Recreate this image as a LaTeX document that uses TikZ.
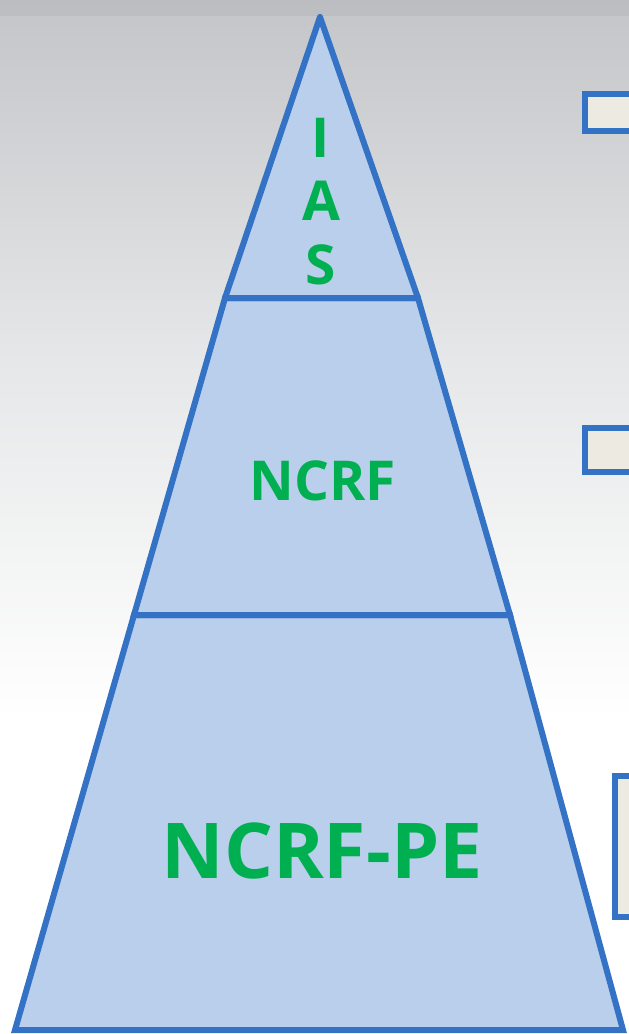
\documentclass[tikz,border=0pt]{standalone}
\usepackage{fontspec}
\setmainfont{Open Sans}
\definecolor{edgeblue}{HTML}{3372C4}
\definecolor{layerfill}{HTML}{B9CFEC}
\definecolor{labelgreen}{HTML}{00B050}
\definecolor{boxfill}{HTML}{EDEBE1}
\definecolor{bgtop}{HTML}{C3C5C8}
\definecolor{bgmid}{HTML}{E6E7E8}
\begin{document}
\begin{tikzpicture}[x=1pt,y=-1pt,
  layer/.style={draw=edgeblue,fill=layerfill,line width=6pt},
  sidebox/.style={draw=edgeblue,fill=boxfill,line width=6pt},
  lbl/.style={text=labelgreen,inner sep=0pt,font=\bfseries},
]
\useasboundingbox (0,0) rectangle (629,1034);
\clip (0,0) rectangle (629,1034);
% backdrop
\fill[white] (0,0) rectangle (629,1034);
\shade[top color=bgtop,bottom color=bgmid] (0,0) rectangle (629,360);
\shade[top color=bgmid,bottom color=white] (0,360) rectangle (629,720);
\fill[bgtop!85!black,opacity=0.25] (0,0) rectangle (629,16);

% boxes at the right margin
\draw[sidebox] (585,94) rectangle (660,131);
\draw[sidebox] (585,428) rectangle (660,472);
\draw[sidebox] (615,776) rectangle (660,917);

% pyramid layers
\draw[layer] (134,615) -- (510,615) -- (623,1030) -- (15,1030) -- cycle;
\draw[layer] (225,298) -- (418,298) -- (510,615) -- (134,615) -- cycle;
\draw[layer,line join=round] (320,17) -- (418,298) -- (225,298) -- cycle;

% labels
\node[lbl,font=\fontsize{55}{55}\selectfont\bfseries] (li) at (321,138) {I};
\node[lbl,font=\fontsize{55}{55}\selectfont\bfseries] (la) at (321,201) {A};
\node[lbl,font=\fontsize{55}{55}\selectfont\bfseries] (ls) at (321,265) {S};
\node[lbl,font=\fontsize{55}{55}\selectfont\bfseries] (ncrf) at (323,481) {NCRF};
\node[lbl,font=\fontsize{77}{77}\selectfont\bfseries] (ncrfpe) at (322,851) {NCRF-PE};
\end{tikzpicture}
\end{document}
